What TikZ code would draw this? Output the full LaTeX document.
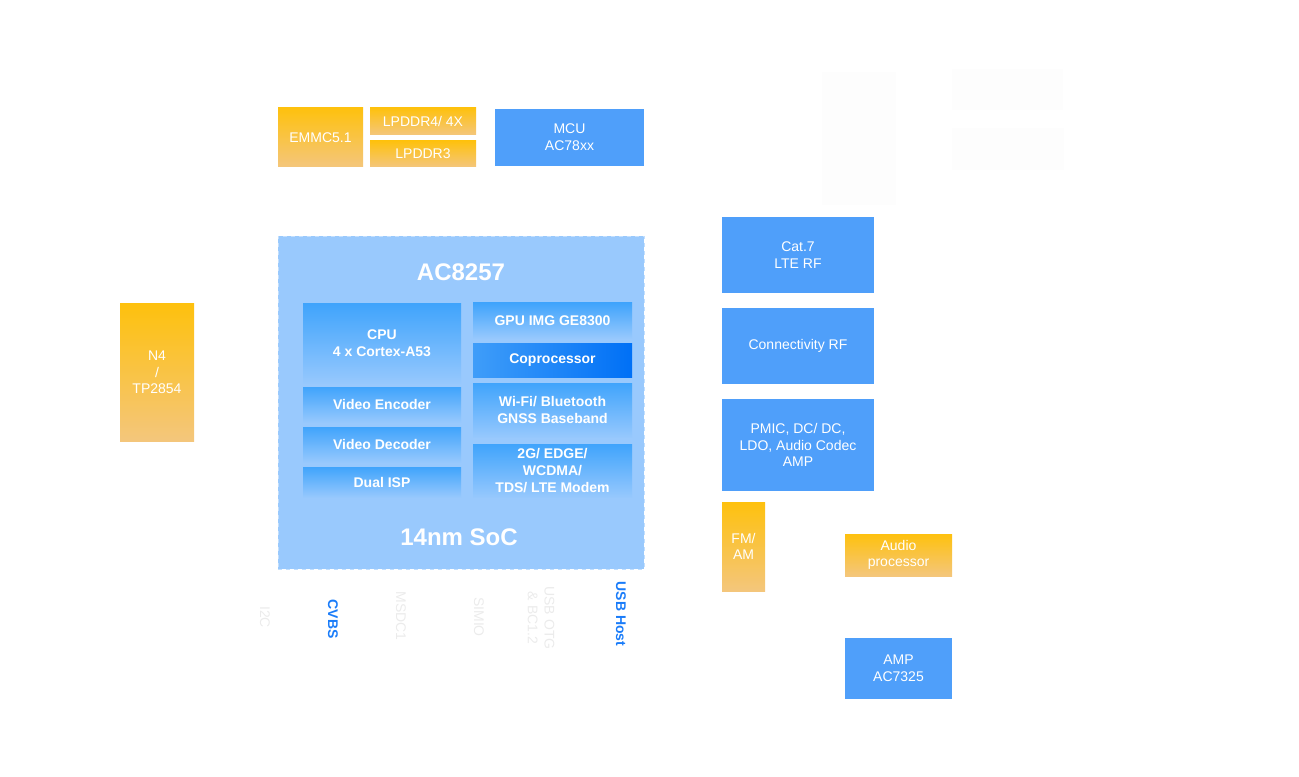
\documentclass[tikz,border=0pt]{standalone}
\usepackage{fontspec}
\setmainfont{Liberation Sans}
\definecolor{mblue}{HTML}{4F9FFA}
\definecolor{socbg}{HTML}{99C9FD}
\definecolor{socedge}{HTML}{C2DFFE}
\definecolor{innertop}{HTML}{40A4FC}
\definecolor{innerbot}{HTML}{96C8FD}
\definecolor{oratop}{HTML}{FEC10E}
\definecolor{orabot}{HTML}{F4C67C}
\definecolor{coleft}{HTML}{3F9DF9}
\definecolor{coright}{HTML}{0070F6}
\definecolor{lblblue}{HTML}{1A7CF9}
\definecolor{lblfaint}{HTML}{EBEBEB}
\definecolor{ghost}{HTML}{FDFDFD}
\newcommand\bx[7]{\node[#2, minimum width={(#5-#3)*0.75pt}, minimum height={(#6-#4)*0.75pt}] (#1) at ({(#3+#5)/2},{(#4+#6)/2}) {#7};}
\tikzset{
  base/.style={inner sep=0pt, outer sep=0pt, align=center, text=white, font=\fontsize{10.5}{12.5}\selectfont},
  blk/.style={base, fill=mblue},
  ora/.style={base, top color=oratop, bottom color=orabot},
  inner/.style={base, top color=innertop, bottom color=innerbot, font=\fontsize{10.5}{12.5}\selectfont\bfseries},
  copro/.style={base, left color=coleft, right color=coright, font=\fontsize{10.5}{12.5}\selectfont\bfseries},
  soc/.style={inner sep=0pt, outer sep=0pt, fill=socbg, draw=socedge, dashed, line width=0.6pt},
  ghostbox/.style={inner sep=0pt, fill=ghost},
  big/.style={text=white, font=\fontsize{18}{20}\selectfont\bfseries, inner sep=0pt},
  lblb/.style={rotate=-90, text=lblblue, align=center, font=\fontsize{10.5}{12.5}\selectfont\bfseries, inner sep=0pt},
  lblf/.style={rotate=-90, text=lblfaint, align=center, font=\fontsize{10.5}{12.5}\selectfont, inner sep=0pt},
}
\begin{document}
\begin{tikzpicture}[x=0.75pt,y=-0.75pt]
\useasboundingbox (0,0) rectangle (1299,777);
% faint boxes top right
\bx{g1}{ghostbox}{822}{72}{896}{205}{}
\bx{g2}{ghostbox}{952}{69}{1063}{110}{}
\bx{g3}{ghostbox}{952}{128}{1064}{170}{}
% memory and MCU
\bx{emmc}{ora}{278}{108}{363}{167}{EMMC5.1}
\bx{lp4}{ora}{370}{108}{476}{135}{LPDDR4/ 4X}
\bx{lp3}{ora}{370}{141}{476}{167}{LPDDR3}
\bx{mcu}{blk}{495}{109}{644}{166}{MCU\\AC78xx}
% SoC
\bx{soc}{soc}{278}{236}{644}{569}{}
\node[big] (title) at (461,272) {AC8257};
\node[big] (node14) at (459,537) {14nm SoC};
\bx{cpu}{inner}{303}{304}{461}{383}{CPU\\4 x Cortex-A53}
\bx{venc}{inner}{303}{387}{461}{422}{Video Encoder}
\bx{vdec}{inner}{303}{427}{461}{462}{Video Decoder}
\bx{isp}{inner}{303}{467}{461}{497}{Dual ISP}
\bx{gpu}{inner}{473}{303}{632}{338}{GPU IMG GE8300}
\bx{cop}{copro}{473}{343}{632}{377}{Coprocessor}
\bx{wifi}{inner}{473}{383}{632}{437}{Wi-Fi/ Bluetooth\\GNSS Baseband}
\bx{modem}{inner}{473}{444}{632}{497}{2G/ EDGE/\\WCDMA/\\TDS/ LTE Modem}
% left
\bx{n4}{ora}{120}{304}{194}{441}{N4\\/\\TP2854}
% right
\bx{lte}{blk}{722}{217}{874}{293}{Cat.7\\LTE RF}
\bx{conn}{blk}{722}{308}{874}{384}{Connectivity RF}
\bx{pmic}{blk}{722}{399}{874}{491}{PMIC, DC/ DC,\\LDO, Audio Codec\\AMP}
\bx{fm}{ora}{722}{502}{765}{591}{FM/\\AM}
\bx{audio}{ora}{845}{534}{952}{576}{Audio\\processor}
\bx{amp}{blk}{845}{638}{952}{699}{AMP\\AC7325}
% bottom labels
\node[lblf] (i2c) at (265,617) {I2C};
\node[lblb] (cvbs) at (333,619) {CVBS};
\node[lblf] (msdc) at (401,616) {MSDC1};
\node[lblf] (simio) at (479,617) {SIMIO};
\node[lblf] (usbotg) at (541,618) {USB OTG\\\& BC1.2};
\node[lblb] (usbhost) at (621,614) {USB Host};
\end{tikzpicture}
\end{document}
